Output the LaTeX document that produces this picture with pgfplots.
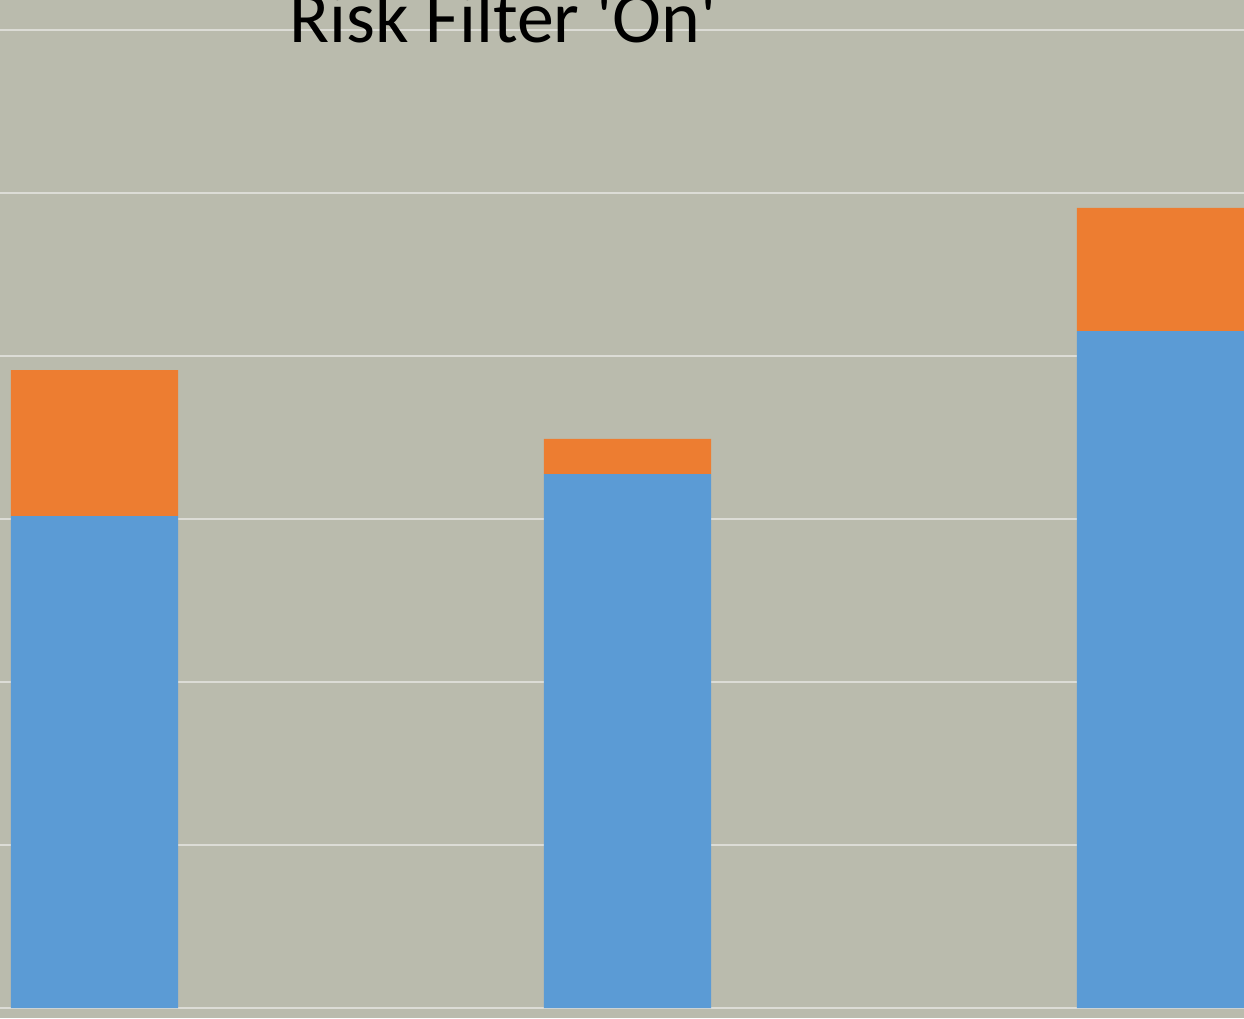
\documentclass[border=0pt]{standalone}
\usepackage{pgfplots}
\pgfplotsset{compat=1.18}
\usepackage{fontspec}
\setmainfont{Carlito}
\definecolor{bgc}{HTML}{BABBAD}
\definecolor{gridc}{HTML}{DCDCD6}
\definecolor{barblue}{HTML}{5B9BD5}
\definecolor{barorange}{HTML}{ED7D31}
\begin{document}
\begin{tikzpicture}
\path[use as bounding box, clip] (0,0) rectangle (12.44cm,10.18cm);
\fill[bgc] (0,0) rectangle (12.44cm,10.18cm);
\begin{axis}[
  at={(0,0)}, anchor=south west,
  scale only axis, width=12.44cm, height=10.18cm,
  xmin=-0.1773, xmax=2.1567,
  ymin=-0.0613, ymax=6.184,
  ybar stacked, bar width=1.67cm,
  axis line style={draw=none},
  tick style={draw=none},
  ytick={0,1,2,3,4,5,6}, yticklabels={},
  xtick=\empty,
  ymajorgrids,
  grid style={gridc, line width=0.02cm},
  clip=false,
]
\addplot[fill=barblue, draw=none] coordinates {(0,3.018) (1,3.276) (2,4.153)};
\addplot[fill=barorange, draw=none] coordinates {(0,0.896) (1,0.215) (2,0.755)};
\node[anchor=base, font=\fontsize{21}{25}\selectfont, inner sep=0pt]
  at (rel axis cs:0.4043,0.9587) {Risk Filter \textquotesingle On\textquotesingle};
\end{axis}
\end{tikzpicture}
\end{document}
